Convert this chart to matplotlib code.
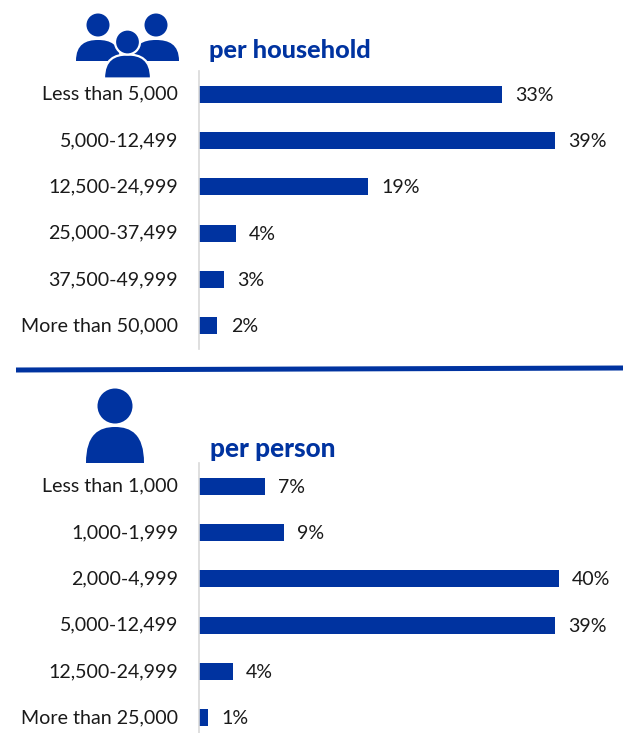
# -*- coding: utf-8 -*-

import numpy as np
import matplotlib
matplotlib.use("Agg")
import matplotlib.pyplot as plt
from matplotlib.path import Path
from matplotlib.patches import PathPatch, Circle
from matplotlib.transforms import ScaledTranslation

plt.rcParams['font.family'] = ['Lato', 'DejaVu Sans']

# per household
household_cats = ["Less than 5,000", "5,000-12,499", "12,500-24,999",
                  "25,000-37,499", "37,500-49,999", "More than 50,000"]
household_vals = [33.2, 39.0, 18.5, 4.0, 2.7, 2.0]
household_labels = ["33%", "39%", "19%", "4%", "3%", "2%"]

# per person
person_cats = ["Less than 1,000", "1,000-1,999", "2,000-4,999",
               "5,000-12,499", "12,500-24,999", "More than 25,000"]
person_vals = [7.2, 9.3, 39.4, 39.0, 3.7, 1.0]
person_labels = ["7%", "9%", "40%", "39%", "4%", "1%"]

W = 623
H = 733
BLUE = "#0033a0"
PX_PER_UNIT = 9.13
AX_LEFT = 199.2

fig = plt.figure(figsize=(W / 100, H / 100), dpi=100, facecolor="white")


def draw_bars(top, bottom, cats, vals, labels):
    ax = fig.add_axes([AX_LEFT / W, 1 - bottom / H, (W - AX_LEFT) / W, (bottom - top) / H])
    y = np.arange(len(cats))
    ax.barh(y, vals, height=0.36, color=BLUE)
    ax.set_xlim(0, (W - AX_LEFT) / PX_PER_UNIT)
    ax.set_ylim(len(cats) - 0.5, -0.5)
    ax.set_yticks(y)
    ax.set_yticklabels(cats, fontsize=14.1, color="#1a1a1a")
    ax.tick_params(axis='y', length=0, pad=15.2)
    ax.xaxis.set_visible(False)
    for s in ['top', 'right', 'bottom']:
        ax.spines[s].set_visible(False)
    ax.spines['left'].set_color("#d9d9d9")
    ax.spines['left'].set_linewidth(1.2)
    # labels sit a little higher than matplotlib centres them
    shift = ScaledTranslation(0, 1.5 / 100, fig.dpi_scale_trans)
    for lab in ax.get_yticklabels():
        lab.set_transform(lab.get_transform() + shift)
    for i in range(len(vals)):
        ax.annotate(labels[i], (vals[i], i), xytext=(9.5, -0.7),
                    textcoords='offset points', va='center',
                    fontsize=14.1, color="#1a1a1a")


draw_bars(71, 349, household_cats, household_vals, household_labels)
draw_bars(463, 741, person_cats, person_vals, person_labels)

# overlay in pixel coordinates for the icons, titles and divider
over = fig.add_axes([0, 0, 1, 1], zorder=5)
over.set_xlim(0, W)
over.set_ylim(H, 0)
over.axis('off')
over.patch.set_alpha(0)


def person_icon(cx, head_y, r, body_top, body_bottom, half_w, edge=None):
    # body is a dome with a flat bottom
    x0 = cx - half_w
    x1 = cx + half_w
    h = body_bottom - body_top
    verts = [(x0, body_bottom), (x0, body_top + h * 0.2), (cx - half_w * 0.55, body_top),
             (cx, body_top), (cx + half_w * 0.55, body_top), (x1, body_top + h * 0.2),
             (x1, body_bottom), (x0, body_bottom)]
    codes = [Path.MOVETO, Path.CURVE4, Path.CURVE4, Path.CURVE4,
             Path.CURVE4, Path.CURVE4, Path.CURVE4, Path.CLOSEPOLY]
    ec = edge if edge else BLUE
    lw = 1.6 if edge else 0
    over.add_patch(PathPatch(Path(verts, codes), facecolor=BLUE, edgecolor=ec, linewidth=lw))
    over.add_patch(Circle((cx, head_y), r, facecolor=BLUE, edgecolor=ec, linewidth=lw))


person_icon(98, 25, 11.5, 40, 61, 22)
person_icon(156, 25, 11.5, 40, 61, 23)
person_icon(127.5, 42, 12.5, 54.5, 78.5, 23.5, edge="white")
person_icon(115, 406, 17.5, 427, 463, 29)

over.text(209, 50, "per household", fontsize=18.2, fontweight='black',
          color=BLUE, va='center', ha='left')
over.text(210, 449, "per person", fontsize=18.8, fontweight='black',
          color=BLUE, va='center', ha='left')

over.plot([16, W], [370, 368], color=BLUE, linewidth=3.6, solid_capstyle='butt')

fig.savefig("out.png", dpi=100)
